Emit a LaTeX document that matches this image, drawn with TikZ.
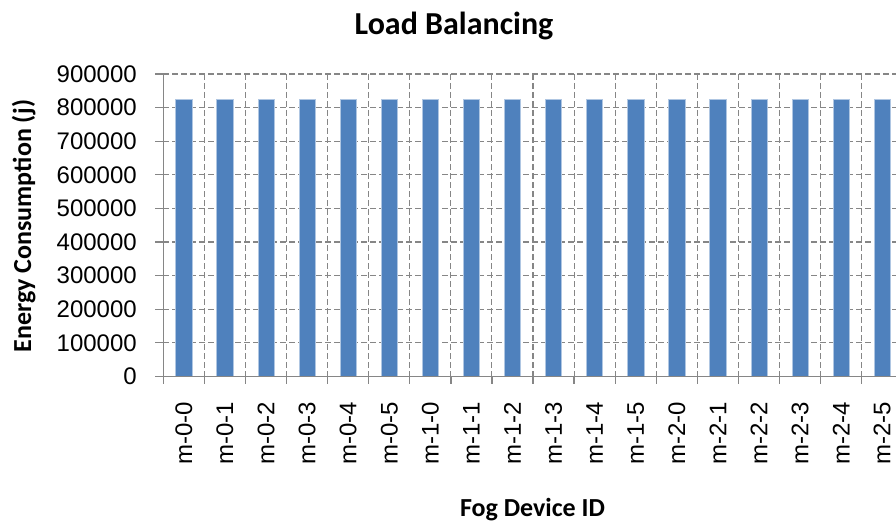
\documentclass[tikz,border=0pt]{standalone}
\usepackage{fontspec}
\setmainfont{Liberation Sans}
\newfontfamily\headfont{Carlito}
\definecolor{barblue}{RGB}{79,129,189}
\definecolor{baredge}{RGB}{175,198,226}
\definecolor{gridgray}{RGB}{134,134,134}
\tikzset{%
  gridline/.style   = {draw=gridgray, line width=1.1pt, dash pattern=on 6pt off 3pt},%
  axisline/.style   = {draw=gridgray, line width=1.3pt},%
  bar/.style        = {fill=barblue, draw=baredge, line width=0.6pt},%
  ticklabel/.style  = {inner sep=0pt, font={\fontsize{24}{28}\selectfont}},%
  charttitle/.style = {inner sep=0pt, font={\headfont\bfseries\fontsize{32}{38}\selectfont}},%
  axistitle/.style  = {inner sep=0pt, font={\headfont\bfseries\fontsize{26}{31}\selectfont}}%
}

\begin{document}
\begin{tikzpicture}[x=1pt, y=-1pt]%
	\clip (0,0) rectangle (896,524);
	\fill[white] (0,0) rectangle (896,524);
	% grid
	\foreach \v in {1,...,9}
		\draw[gridline] (163.3,{376.4-33.6*\v}) -- (902.8,{376.4-33.6*\v});
	\foreach \k in {1,...,18}
		\draw[gridline] ({163.3+41.08*\k},74) -- ({163.3+41.08*\k},376.4);
	% bars and category labels
	\foreach \g in {0,1,2}{%
		\foreach \s in {0,...,5}{%
			\pgfmathsetmacro\cx{163.3+41.08*(6*\g+\s+0.5)}
			\draw[bar] ({\cx-8.15},376.4) rectangle ({\cx+8.15},99.3);
			\node[ticklabel, rotate=90, anchor=east] (m\g\s) at (\cx,402) {m-\g-\s};
		}%
	}%
	% axes
	\draw[axisline] (163.3,74) -- (163.3,376.4) -- (902.8,376.4);
	\foreach \v in {0,...,9}{%
		\draw[axisline] (155.3,{376.4-33.6*\v}) -- (163.3,{376.4-33.6*\v});
		\node[ticklabel, anchor=east] (y\v) at (137,{376.4-33.6*\v})
			{\ifnum\v=0 0\else\v00000\fi};
	}%
	\foreach \k in {0,...,18}
		\draw[axisline] ({163.3+41.08*\k},376.4) -- ({163.3+41.08*\k},384.4);
	% titles
	\node[charttitle, anchor=base] (title) at (454,35) {Load Balancing};
	\node[axistitle, rotate=90, anchor=base] (ytitle) at (31,226) {Energy Consumption (j)};
	\node[axistitle, anchor=base] (xtitle) at (532.5,516) {Fog Device ID};
\end{tikzpicture}
\end{document}
